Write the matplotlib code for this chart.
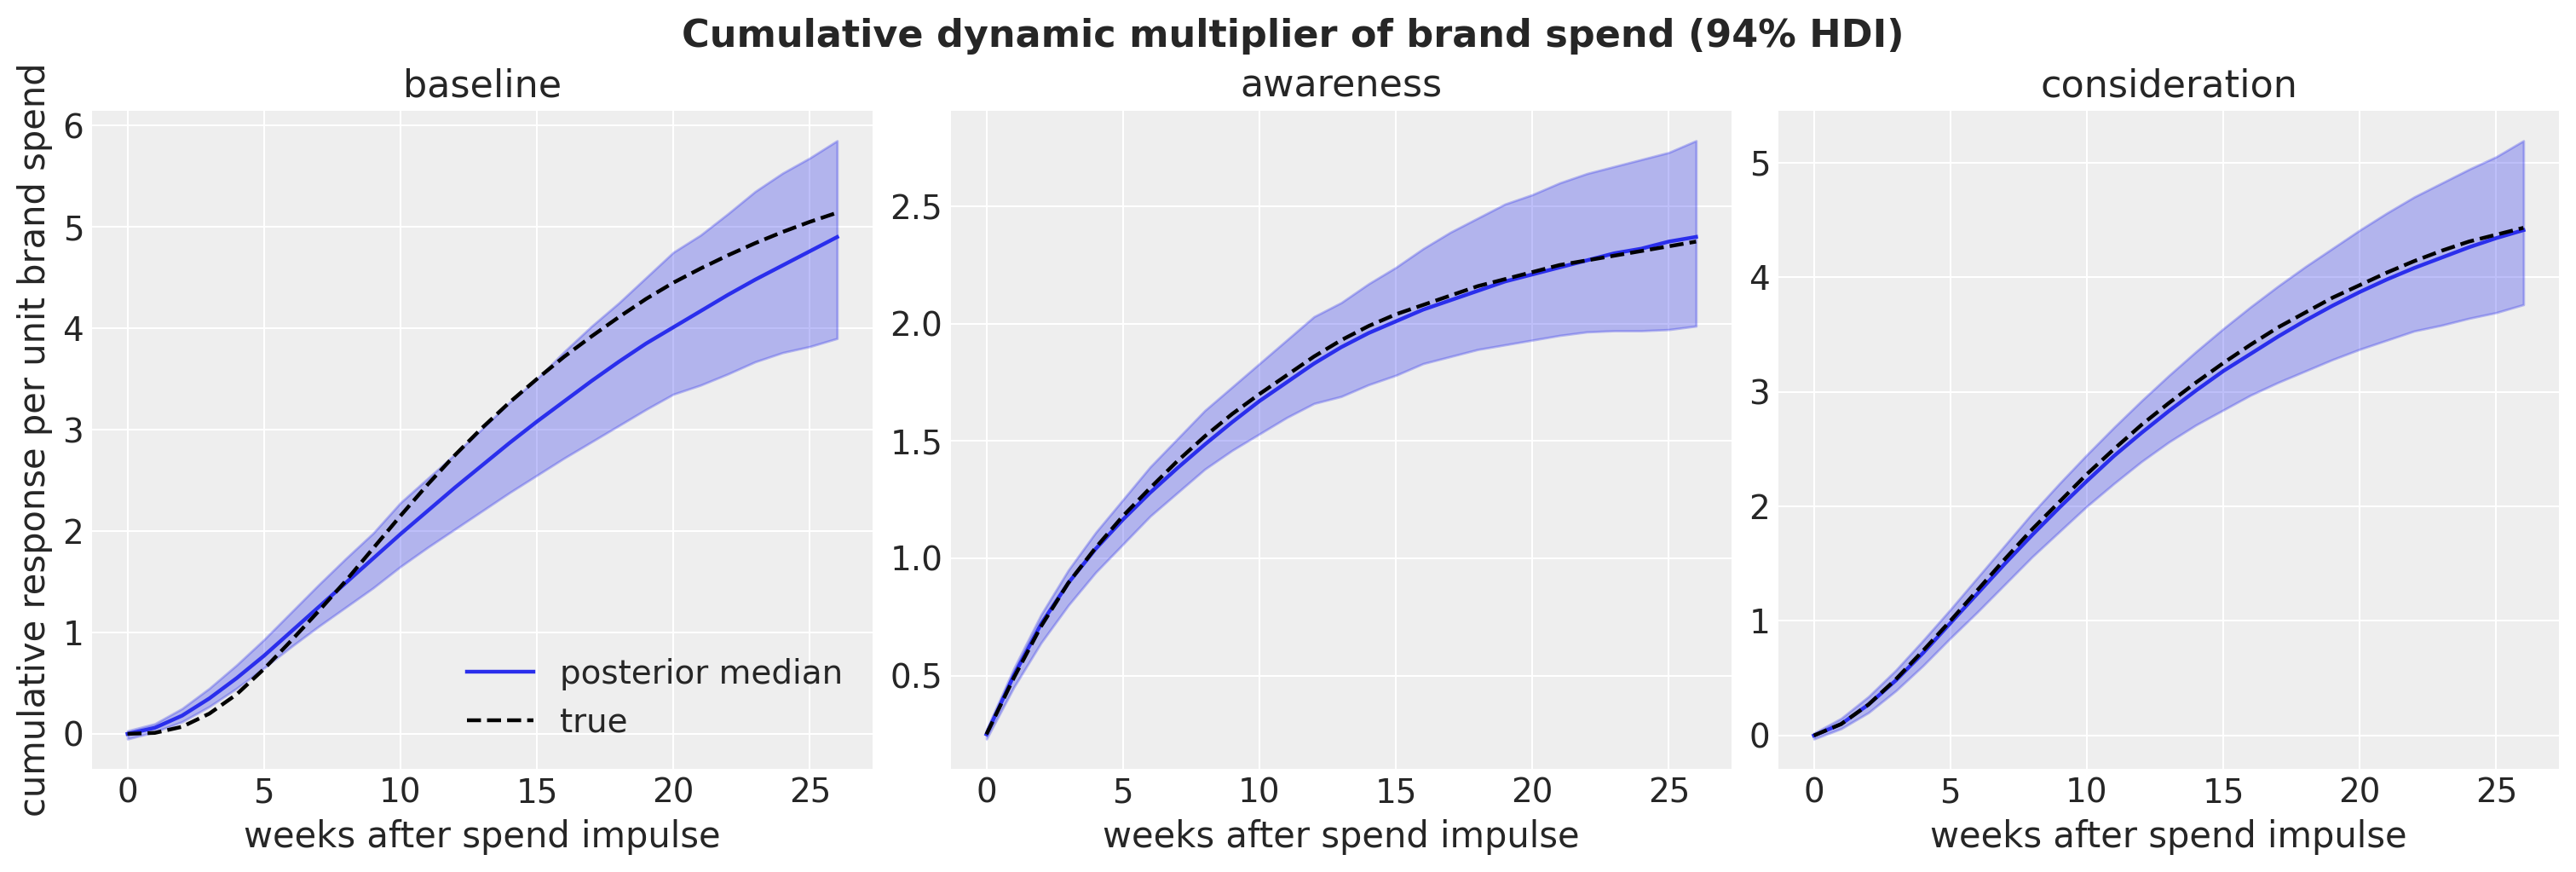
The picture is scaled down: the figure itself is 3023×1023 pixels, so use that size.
import numpy as np
import matplotlib
matplotlib.use("Agg")
import matplotlib.pyplot as plt

# ── data: cumulative response per unit brand spend, weeks 0..26 ──
weeks = np.arange(27)

panels = ["baseline", "awareness", "consideration"]

baseline_median = [0.00, 0.06, 0.18, 0.35, 0.55, 0.77, 1.01, 1.25, 1.49, 1.73,
                   1.97, 2.20, 2.43, 2.65, 2.87, 3.08, 3.28, 3.48, 3.67, 3.85,
                   4.01, 4.17, 4.33, 4.48, 4.62, 4.76, 4.90]
baseline_true = [0.00, 0.01, 0.07, 0.20, 0.39, 0.64, 0.92, 1.21, 1.51, 1.83,
                 2.15, 2.46, 2.75, 3.02, 3.27, 3.50, 3.72, 3.92, 4.11, 4.29,
                 4.45, 4.59, 4.72, 4.84, 4.95, 5.05, 5.14]
baseline_hi = [0.03, 0.10, 0.25, 0.45, 0.68, 0.93, 1.20, 1.47, 1.73, 1.98,
               2.28, 2.52, 2.76, 3.01, 3.27, 3.50, 3.77, 4.02, 4.25, 4.50,
               4.75, 4.92, 5.13, 5.35, 5.53, 5.68, 5.85]
baseline_lo = [-0.05, 0.02, 0.12, 0.27, 0.45, 0.65, 0.86, 1.06, 1.25, 1.44,
               1.65, 1.84, 2.02, 2.20, 2.38, 2.55, 2.72, 2.88, 3.04, 3.20,
               3.35, 3.44, 3.55, 3.67, 3.76, 3.82, 3.90]

awareness_median = [0.25, 0.50, 0.72, 0.895, 1.04, 1.165, 1.28, 1.385, 1.485, 1.58,
                    1.67, 1.75, 1.83, 1.90, 1.96, 2.01, 2.06, 2.10, 2.14, 2.18,
                    2.21, 2.24, 2.27, 2.30, 2.32, 2.35, 2.37]
awareness_true = [0.25, 0.49, 0.71, 0.895, 1.045, 1.18, 1.30, 1.415, 1.52, 1.615,
                  1.70, 1.78, 1.86, 1.93, 1.99, 2.04, 2.08, 2.12, 2.16, 2.19,
                  2.22, 2.25, 2.27, 2.29, 2.31, 2.33, 2.35]
awareness_hi = [0.27, 0.53, 0.76, 0.95, 1.11, 1.25, 1.39, 1.51, 1.63, 1.73,
                1.83, 1.93, 2.03, 2.09, 2.17, 2.24, 2.32, 2.39, 2.45, 2.51,
                2.55, 2.60, 2.64, 2.67, 2.70, 2.73, 2.78]
awareness_lo = [0.23, 0.45, 0.64, 0.80, 0.94, 1.06, 1.18, 1.28, 1.38, 1.46,
                1.53, 1.60, 1.66, 1.69, 1.74, 1.78, 1.83, 1.86, 1.89, 1.91,
                1.93, 1.95, 1.965, 1.97, 1.97, 1.975, 1.99]

consideration_median = [0.00, 0.10, 0.27, 0.48, 0.72, 0.98, 1.24, 1.50, 1.75, 1.99,
                        2.22, 2.44, 2.64, 2.83, 3.01, 3.18, 3.33, 3.48, 3.62, 3.75,
                        3.87, 3.98, 4.08, 4.17, 4.26, 4.34, 4.41]
consideration_true = [0.00, 0.10, 0.27, 0.49, 0.74, 1.00, 1.27, 1.54, 1.80, 2.04,
                      2.28, 2.50, 2.71, 2.90, 3.08, 3.25, 3.41, 3.56, 3.69, 3.82,
                      3.93, 4.04, 4.14, 4.23, 4.31, 4.37, 4.43]
consideration_hi = [0.02, 0.15, 0.34, 0.57, 0.83, 1.10, 1.38, 1.66, 1.94, 2.20,
                    2.45, 2.69, 2.92, 3.14, 3.35, 3.55, 3.74, 3.92, 4.09, 4.25,
                    4.41, 4.56, 4.70, 4.82, 4.94, 5.05, 5.19]
consideration_lo = [-0.03, 0.06, 0.20, 0.39, 0.61, 0.85, 1.08, 1.32, 1.56, 1.78,
                    2.00, 2.20, 2.39, 2.56, 2.71, 2.84, 2.97, 3.08, 3.18, 3.28,
                    3.37, 3.45, 3.53, 3.58, 3.64, 3.69, 3.76]

medians = [baseline_median, awareness_median, consideration_median]
trues = [baseline_true, awareness_true, consideration_true]
his = [baseline_hi, awareness_hi, consideration_hi]
los = [baseline_lo, awareness_lo, consideration_lo]

# ── arviz-darkgrid-like style ─────────────────────────────────
TXT = "#262626"
BLUE = "#2a2eec"
plt.rcParams.update({
    "font.family": "DejaVu Sans",
    "figure.facecolor": "white",
    "axes.facecolor": "#eeeeee",
    "axes.edgecolor": "white",
    "axes.linewidth": 0,
    "axes.grid": True,
    "grid.color": "white",
    "grid.linewidth": 0.75,
    "text.color": TXT,
    "axes.labelcolor": TXT,
    "xtick.color": TXT, "ytick.color": TXT,
    "xtick.major.size": 0, "ytick.major.size": 0,
    "xtick.labelsize": 14, "ytick.labelsize": 14,
    "axes.labelsize": 15, "axes.titlesize": 16,
    "legend.fontsize": 14,
})

W, H = 3023, 1023
fig, axes = plt.subplots(1, 3, figsize=(W / 200, H / 200), dpi=200)
lefts = [108, 1116, 2087]
for ax, l in zip(axes, lefts):
    ax.set_position([l / W, (H - 902) / H, 916 / W, 772 / H])

for i, ax in enumerate(axes):
    ax.fill_between(weeks, los[i], his[i], color=BLUE, alpha=0.3)
    ax.plot(weeks, medians[i], color=BLUE, lw=1.6, label="posterior median")
    ax.plot(weeks, trues[i], color="black", lw=1.6, ls="--", label="true")
    ax.set_title(panels[i])
    ax.set_xlabel("weeks after spend impulse")
    ax.set_axisbelow(True)
    for s in ax.spines.values():
        s.set_visible(False)

axes[0].set_ylabel("cumulative response per unit brand spend")
axes[0].legend(loc="lower right", frameon=False)

fig.text(1517 / W, 1 - 55 / H,
         "Cumulative dynamic multiplier of brand spend (94% HDI)",
         ha="center", va="baseline", fontsize=16, fontweight="bold")

fig.savefig("out.png", dpi=200, facecolor="white")
